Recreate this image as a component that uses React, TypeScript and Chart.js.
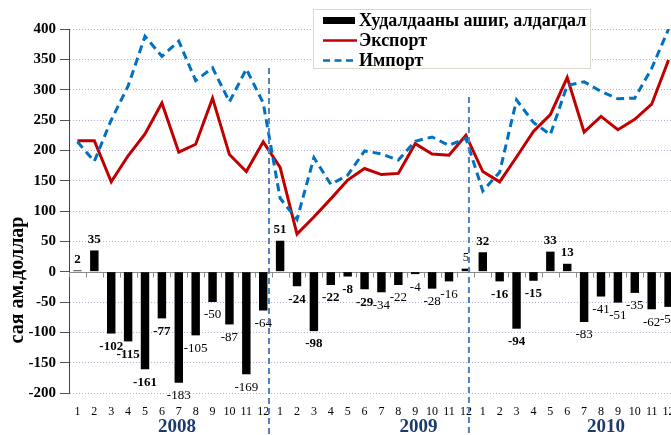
import { useEffect, useRef } from 'react';
import { Chart, registerables } from 'chart.js';

Chart.register(...registerables);

// ---------- data ----------
const months = ['1', '2', '3', '4', '5', '6', '7', '8', '9', '10', '11', '12'];
const categories = [...months, ...months, ...months];
const years = ['2008', '2009', '2010'];

const balance = [
  2, 35, -102, -115, -161, -77, -183, -105, -50, -87, -169, -64,
  51, -24, -98, -22, -8, -29, -34, -22, -4, -28, -16, 5,
  32, -16, -94, -15, 33, 13, -83, -41, -51, -35, -62, -58,
];
const exportVals = [
  216, 216, 148, 191, 227, 278, 197, 210, 286, 193, 165, 214,
  172, 62, 90, 120, 151, 170, 160, 162, 211, 194, 192, 225,
  165, 148, 189, 231, 259, 320, 230, 256, 234, 251, 276, 349,
];
const importVals = [
  214, 182, 250, 306, 388, 355, 380, 315, 336, 280, 334, 278,
  121, 86, 188, 144, 159, 199, 194, 184, 215, 222, 208, 220,
  133, 164, 283, 246, 226, 307, 313, 297, 285, 286, 335, 400,
];
const yMin = -200;
const yMax = 400;
const yStep = 50;

const seriesNames = ['Худалдааны ашиг, алдагдал', 'Экспорт', 'Импорт'];
const yTitle = 'сая ам.доллар';

// ---------- style / layout ----------
const SERIF = "'Liberation Serif', 'Times New Roman', serif";
const RED = '#c00000';
const BLUE = '#0070c0';
const NAVY = '#1c3a6e';
const yearLabelAt = [5.9, 20.2, 31.3];
const dividerAt = [11.34, 23.18];
const dividerTop = [68, 97];
const CANVAS_W = 677;
const CANVAS_H = 435;

const overlayPlugin = {
  id: 'overlay',
  beforeDatasetsDraw(chart: any) {
    const { ctx, chartArea } = chart;
    const y = chart.scales.y;
    const x = chart.scales.x;
    const y0 = Math.round(y.getPixelForValue(0)) + 0.5;
    ctx.save();
    ctx.strokeStyle = '#8c8c8c';
    ctx.lineWidth = 1;
    ctx.beginPath();
    ctx.moveTo(chartArea.left, y0);
    ctx.lineTo(chartArea.right, y0);
    for (let i = 0; i <= categories.length; i++) {
      const px = Math.round(x.getPixelForValue(i - 0.5)) + 0.5;
      ctx.moveTo(px, y0);
      ctx.lineTo(px, y0 + 5);
    }
    ctx.stroke();
    ctx.restore();
  },
  afterDatasetsDraw(chart: any) {
    const { ctx } = chart;
    const x = chart.scales.x;
    const meta = chart.getDatasetMeta(0);
    ctx.save();
    // bar value labels
    ctx.fillStyle = '#000';
    ctx.textAlign = 'center';
    ctx.textBaseline = 'middle';
    meta.data.forEach((bar: any, i: number) => {
      const v = balance[i];
      const bold = i % 12 < 6;
      ctx.font = `${bold ? 'bold ' : ''}13px ${SERIF}`;
      const ty = v >= 0 ? bar.y - 11 : bar.y + 13;
      ctx.fillText(String(v), bar.x, ty);
    });
    // year dividers
    ctx.strokeStyle = '#4f81bd';
    ctx.lineWidth = 2;
    ctx.setLineDash([6, 4]);
    dividerAt.forEach((d, k) => {
      const px = x.getPixelForValue(d);
      ctx.beginPath();
      ctx.moveTo(px, dividerTop[k]);
      ctx.lineTo(px, chart.height);
      ctx.stroke();
    });
    ctx.setLineDash([]);
    // year labels
    ctx.fillStyle = NAVY;
    ctx.font = `bold 19px ${SERIF}`;
    ctx.textBaseline = 'middle';
    years.forEach((yr, k) => {
      ctx.fillText(yr, x.getPixelForValue(yearLabelAt[k]), 427);
    });
    // y title
    ctx.save();
    ctx.translate(18, 280);
    ctx.rotate(-Math.PI / 2);
    ctx.fillStyle = '#000';
    ctx.font = `bold 20px ${SERIF}`;
    ctx.textAlign = 'center';
    ctx.fillText(yTitle, 0, 0);
    ctx.restore();
    // legend
    ctx.fillStyle = '#fff';
    ctx.fillRect(313, 9, 277, 59);
    ctx.strokeStyle = '#ddd8cc';
    ctx.lineWidth = 1;
    ctx.strokeRect(313.5, 9.5, 277, 59);
    ctx.fillStyle = '#000';
    ctx.fillRect(323, 17, 32, 7);
    ctx.strokeStyle = RED;
    ctx.lineWidth = 2.5;
    ctx.beginPath();
    ctx.moveTo(323, 40.5);
    ctx.lineTo(357, 40.5);
    ctx.stroke();
    ctx.strokeStyle = BLUE;
    ctx.lineWidth = 2.5;
    ctx.setLineDash([7, 4.5]);
    ctx.beginPath();
    ctx.moveTo(323, 60.5);
    ctx.lineTo(355, 60.5);
    ctx.stroke();
    ctx.setLineDash([]);
    ctx.fillStyle = '#000';
    ctx.font = `bold 18px ${SERIF}`;
    ctx.textAlign = 'left';
    ctx.textBaseline = 'middle';
    ctx.fillText(seriesNames[0], 359, 21);
    ctx.fillText(seriesNames[1], 359, 41);
    ctx.fillText(seriesNames[2], 359, 61);
    ctx.restore();
  },
};

export default function App() {
  const ref = useRef<HTMLCanvasElement>(null);
  useEffect(() => {
    if (!ref.current) return;
    const chart = new Chart(ref.current, {
      type: 'bar',
      data: {
        labels: categories,
        datasets: [
          {
            type: 'bar',
            label: seriesNames[0],
            data: balance,
            backgroundColor: '#000',
            barPercentage: 0.5,
            categoryPercentage: 1,
            order: 3,
          },
          {
            type: 'line',
            label: seriesNames[1],
            data: exportVals,
            borderColor: RED,
            borderWidth: 3,
            pointRadius: 0,
            tension: 0,
            order: 2,
          },
          {
            type: 'line',
            label: seriesNames[2],
            data: importVals,
            borderColor: BLUE,
            borderWidth: 3,
            borderDash: [8, 5],
            pointRadius: 0,
            tension: 0,
            order: 1,
          },
        ] as any,
      },
      options: {
        animation: false,
        responsive: false,
        devicePixelRatio: 1,
        layout: { padding: { left: 0, top: 29, right: 0, bottom: 0 } },
        plugins: {
          legend: { display: false },
          tooltip: { enabled: false },
        },
        scales: {
          x: {
            grid: { display: false, drawTicks: true, tickLength: 12 },
            border: { display: false },
            ticks: {
              autoSkip: false,
              maxRotation: 0,
              minRotation: 0,
              padding: 0,
              color: '#000',
              font: { family: SERIF, size: 12 },
            },
            afterFit(scale: any) {
              scale.height = 42;
            },
          },
          y: {
            min: yMin,
            max: yMax,
            ticks: {
              stepSize: yStep,
              color: '#000',
              padding: 4,
              font: { family: SERIF, size: 15, weight: 'bold' },
            },
            grid: {
              color: (c: any) => (c.tick && c.tick.value === 0 ? 'rgba(0,0,0,0)' : 'rgba(150,140,200,0.7)'),
              tickColor: '#555',
              tickLength: 9,
              lineWidth: 1,
            },
            border: { display: true, color: '#444', width: 1, dash: [1, 2] },
            afterFit(scale: any) {
              scale.width = 69;
            },
          },
        },
      } as any,
      plugins: [overlayPlugin],
    });
    return () => chart.destroy();
  }, []);
  return (
    <div style={{ position: 'fixed', left: 0, top: 0, width: CANVAS_W, height: CANVAS_H, background: '#fff' }}>
      <canvas
        ref={ref}
        width={CANVAS_W}
        height={CANVAS_H}
        style={{ display: 'block', width: CANVAS_W, height: CANVAS_H }}
      />
    </div>
  );
}
